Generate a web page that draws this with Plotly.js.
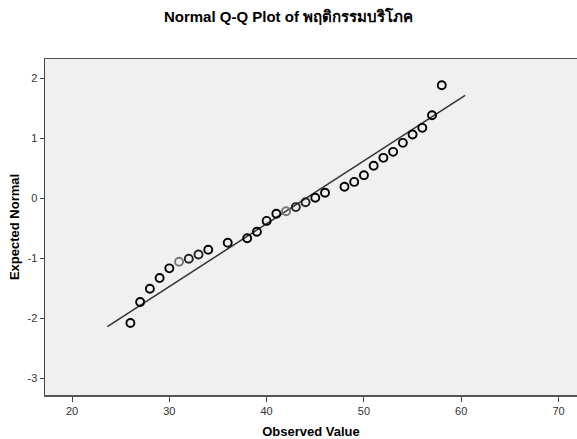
<!DOCTYPE html>
<html>
<head>
<meta charset="utf-8">
<script src="https://cdn.plot.ly/plotly-3.0.1.min.js"></script>
<style>html,body{margin:0;padding:0;background:#fff;}#chart{width:577px;height:439px;}</style>
</head>
<body>
<div id="chart"></div>
<script>
// Observed values and their expected normal scores
var observed = [26, 27, 28, 29, 30, 31, 32, 33, 34, 36, 38, 39, 40, 41, 42, 43, 44, 45, 46, 48, 49, 50, 51, 52, 53, 54, 55, 56, 57, 58];
var expected = [-2.08, -1.73, -1.51, -1.33, -1.17, -1.06, -1.01, -0.94, -0.86, -0.745, -0.67, -0.56, -0.38, -0.26, -0.22, -0.15, -0.07, 0.005, 0.09, 0.19, 0.27, 0.38, 0.54, 0.67, 0.77, 0.92, 1.06, 1.17, 1.38, 1.88];
var markerShade = ['#000', '#000', '#000', '#000', '#000', '#777', '#222', '#222', '#000', '#000', '#000', '#000', '#000', '#000', '#777', '#222', '#222', '#000', '#000', '#000', '#000', '#000', '#000', '#000', '#000', '#000', '#000', '#000', '#000', '#000'];
// Reference line (normal distribution)
var lineX = [23.63, 60.4];
var lineMean = 44.07;
var lineSD = 9.55;
var lineY = lineX.map(function (v) { return (v - lineMean) / lineSD; });
var xTicks = [20, 30, 40, 50, 60, 70];
var yTicks = [-3, -2, -1, 0, 1, 2];

var font = 'Arial, "Liberation Sans", "DejaVu Sans", sans-serif';

var traces = [
  {
    x: lineX, y: lineY, mode: 'lines', type: 'scatter',
    line: {color: '#333', width: 1.5}, hoverinfo: 'skip', showlegend: false
  },
  {
    x: observed, y: expected, mode: 'markers', type: 'scatter',
    marker: {symbol: 'circle-open', size: 8, color: markerShade, line: {width: 1.9, color: markerShade}},
    showlegend: false
  }
];

var layout = {
  width: 577, height: 439,
  margin: {l: 45, r: 0, t: 59, b: 44, pad: 0},
  paper_bgcolor: '#ffffff',
  plot_bgcolor: '#f0f0f0',
  font: {family: font, color: '#000'},
  title: {
    text: 'Normal Q-Q Plot of พฤติกรรมบริโภค',
    font: {family: font, size: 15, color: '#000', weight: 'bold'},
    x: 0.5, xanchor: 'center', y: 0.961, yanchor: 'middle'
  },
  xaxis: {
    range: [17.22, 71.9],
    tickvals: xTicks, ticktext: xTicks.map(String),
    ticks: 'outside', ticklen: 5, tickwidth: 1, tickcolor: '#444',
    tickfont: {family: font, size: 11, color: '#333'},
    showgrid: false, zeroline: false,
    showline: true, linecolor: '#555', linewidth: 1.5, mirror: true,
    title: {text: 'Observed Value', font: {family: font, size: 13, color: '#000', weight: 'bold'}, standoff: 14}
  },
  yaxis: {
    range: [-3.28, 2.317],
    tickvals: yTicks, ticktext: yTicks.map(String),
    ticks: 'outside', ticklen: 4, tickwidth: 1, tickcolor: '#444',
    tickfont: {family: font, size: 11, color: '#333'},
    showgrid: false, zeroline: false,
    showline: true, linecolor: '#444', linewidth: 1.5, mirror: true,
    title: {text: 'Expected Normal', font: {family: font, size: 13, color: '#000', weight: 'bold'}, standoff: 5}
  }
};

Plotly.newPlot('chart', traces, layout, {displayModeBar: false, staticPlot: true});
</script>
</body>
</html>
